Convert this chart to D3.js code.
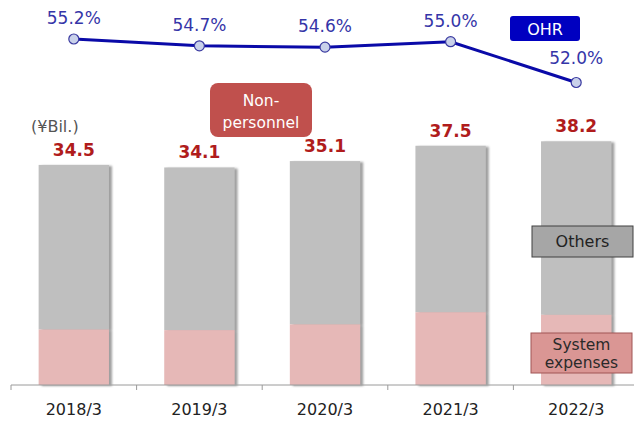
<!DOCTYPE html>
<html>
<head>
<meta charset="utf-8">
<script src="https://cdn.jsdelivr.net/npm/d3@7"></script>
<style>
  body { margin: 0; background: #fff; }
  text { font-family: "DejaVu Sans", Verdana, sans-serif; }
</style>
</head>
<body>
<script>
// chart values
var years = ["2018/3", "2019/3", "2020/3", "2021/3", "2022/3"];
var systemExp = [8.7, 8.6, 9.5, 11.4, 11.0];
var totals = [34.5, 34.1, 35.1, 37.5, 38.2];
var ohr = [55.2, 54.7, 54.6, 55.0, 52.0];

var w = 634, h = 422;
var svg = d3.select("body").append("svg")
    .attr("width", w)
    .attr("height", h);

var defs = svg.append("defs");
defs.append("filter").attr("id", "shadow")
    .attr("x", "-10%").attr("y", "-10%").attr("width", "130%").attr("height", "120%")
  .append("feDropShadow")
    .attr("dx", 3).attr("dy", 1).attr("stdDeviation", 1.3)
    .attr("flood-color", "#777").attr("flood-opacity", 0.7);

var x = d3.scaleBand().domain(years).range([11, 639]).paddingInner(0.44).paddingOuter(0.22);
var y = d3.scaleLinear().domain([0, 60.35]).range([385, 0]);
var yOhr = d3.scaleLinear().domain([52.0, 55.2]).range([82.5, 39]);

// bars
var bars = svg.selectAll("g.bar")
    .data(years)
    .enter()
    .append("g")
    .attr("class", "bar")
    .attr("filter", "url(#shadow)");

bars.append("rect")
    .attr("x", function(d) { return x(d); })
    .attr("width", x.bandwidth())
    .attr("y", function(d, i) { return y(totals[i]); })
    .attr("height", function(d, i) { return y(systemExp[i]) - y(totals[i]); })
    .attr("fill", "#bfbfbf");

bars.append("rect")
    .attr("x", function(d) { return x(d); })
    .attr("width", x.bandwidth())
    .attr("y", function(d, i) { return y(systemExp[i]); })
    .attr("height", function(d, i) { return y(0) - y(systemExp[i]); })
    .attr("fill", "#e6b8b7");

// total labels
svg.selectAll("text.total")
    .data(totals)
    .enter()
    .append("text")
    .attr("class", "total")
    .attr("x", function(d, i) { return x(years[i]) + x.bandwidth() / 2; })
    .attr("y", function(d) { return y(d) - 9; })
    .attr("text-anchor", "middle")
    .attr("font-size", 17)
    .attr("font-weight", "bold")
    .attr("fill", "#b01c1c")
    .text(function(d) { return d.toFixed(1); });

// x axis
var xAxis = d3.axisBottom(x).tickSize(5).tickSizeOuter(0);
var gx = svg.append("g")
    .attr("transform", "translate(0,385)")
    .call(xAxis);
gx.select(".domain").attr("stroke", "#9a9a9a").attr("d", "M11,0H634");
gx.selectAll(".tick line")
    .attr("stroke", "#9a9a9a")
    .attr("transform", "translate(" + (-x.step() / 2) + ",0)");
gx.selectAll(".tick text")
    .attr("font-size", 16)
    .attr("fill", "#222")
    .attr("dy", "1.35em");
gx.select(".tick:first-of-type").clone(true).attr("class", "tick-end")
    .attr("transform", "translate(" + (x(years[4]) + x.bandwidth() / 2 + x.step()) + ",0)")
    .select("text").remove();

// OHR line
var line = d3.line()
    .x(function(d, i) { return x(years[i]) + x.bandwidth() / 2; })
    .y(function(d) { return yOhr(d); });

svg.append("path")
    .datum(ohr)
    .attr("d", line)
    .attr("fill", "none")
    .attr("stroke", "#0a0aa8")
    .attr("stroke-width", 3);

svg.selectAll("circle.ohr")
    .data(ohr)
    .enter()
    .append("circle")
    .attr("class", "ohr")
    .attr("cx", function(d, i) { return x(years[i]) + x.bandwidth() / 2; })
    .attr("cy", function(d) { return yOhr(d); })
    .attr("r", 5)
    .attr("fill", "#c9d1ea")
    .attr("stroke", "#3a3aa0")
    .attr("stroke-width", 1.2);

svg.selectAll("text.ohr")
    .data(ohr)
    .enter()
    .append("text")
    .attr("class", "ohr")
    .attr("x", function(d, i) { return x(years[i]) + x.bandwidth() / 2; })
    .attr("y", function(d, i) { return yOhr(d) - (i == ohr.length - 1 ? 19 : 15); })
    .attr("text-anchor", "middle")
    .attr("font-size", 17)
    .attr("fill", "#3535a8")
    .text(function(d) { return d.toFixed(1) + "%"; });

// unit
svg.append("text")
    .attr("x", 31).attr("y", 132)
    .attr("font-size", 16)
    .attr("fill", "#555")
    .text("(\u00a5Bil.)");

// OHR tag
svg.append("rect")
    .attr("x", 510).attr("y", 16).attr("width", 70).attr("height", 25)
    .attr("rx", 3)
    .attr("fill", "#0000c0");
svg.append("text")
    .attr("x", 545).attr("y", 34.5)
    .attr("text-anchor", "middle")
    .attr("font-size", 16)
    .attr("fill", "#fff")
    .text("OHR");

// Non-personnel tag
svg.append("rect")
    .attr("x", 210).attr("y", 83).attr("width", 102).attr("height", 54)
    .attr("rx", 8)
    .attr("fill", "#c0504d");
var np = svg.append("text")
    .attr("text-anchor", "middle")
    .attr("font-size", 15.5)
    .attr("fill", "#fff");
np.append("tspan").attr("x", 261).attr("y", 106).text("Non-");
np.append("tspan").attr("x", 261).attr("y", 128).text("personnel");

// Others tag
svg.append("rect")
    .attr("x", 532).attr("y", 226).attr("width", 101).attr("height", 31)
    .attr("fill", "#a6a6a6")
    .attr("stroke", "#404040")
    .attr("stroke-width", 1);
svg.append("text")
    .attr("x", 582.5).attr("y", 247)
    .attr("text-anchor", "middle")
    .attr("font-size", 16)
    .attr("fill", "#222")
    .text("Others");

// System expenses tag
svg.append("rect")
    .attr("x", 531).attr("y", 333).attr("width", 101).attr("height", 40)
    .attr("fill", "#da9694")
    .attr("stroke", "#a05555")
    .attr("stroke-width", 1);
var se = svg.append("text")
    .attr("text-anchor", "middle")
    .attr("font-size", 15.5)
    .attr("fill", "#2a2a2a");
se.append("tspan").attr("x", 581.5).attr("y", 350).text("System");
se.append("tspan").attr("x", 581.5).attr("y", 368).text("expenses");
</script>
</body>
</html>
